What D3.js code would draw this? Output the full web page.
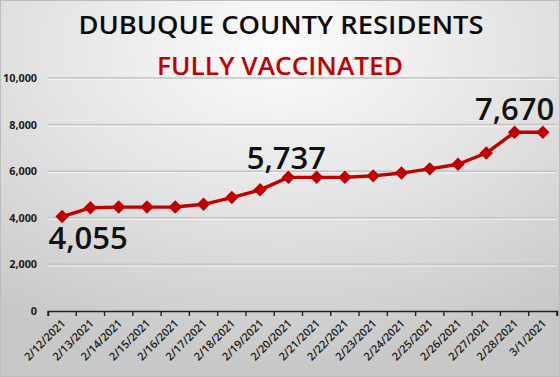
<!DOCTYPE html>
<html><head><meta charset="utf-8">
<script src="https://cdn.jsdelivr.net/npm/d3@7"></script>
<style>html,body{margin:0;padding:0;overflow:hidden;background:#ddd}</style>
</head><body>
<svg id="c" width="560" height="377"></svg>
<script>
const dates = ["2/12/2021","2/13/2021","2/14/2021","2/15/2021","2/16/2021","2/17/2021","2/18/2021","2/19/2021","2/20/2021","2/21/2021","2/22/2021","2/23/2021","2/24/2021","2/25/2021","2/26/2021","2/27/2021","2/28/2021","3/1/2021"];
const vaccinated = [4055,4430,4460,4460,4465,4580,4870,5200,5737,5737,5740,5800,5920,6100,6300,6780,7670,7670];
const yTicks = [0,2000,4000,6000,8000,10000];
const titleLines = ["DUBUQUE COUNTY RESIDENTS","FULLY VACCINATED"];
const labelled = [0,8,16];

const W=560,H=377;
const svg=d3.select("#c");
const defs=svg.append("defs");
const rg=defs.append("radialGradient").attr("id","bg").attr("cx","50%").attr("cy","12%").attr("r","85%");
rg.append("stop").attr("offset","0%").attr("stop-color","#fcfcfc");
rg.append("stop").attr("offset","50%").attr("stop-color","#e4e4e4");
rg.append("stop").attr("offset","100%").attr("stop-color","#c8c8c8");
svg.append("rect").attr("width",W).attr("height",H).attr("fill","url(#bg)");
svg.append("rect").attr("x",0.5).attr("y",0.5).attr("width",W-1).attr("height",H-1).attr("fill","none").attr("stroke","#bdbdbd");

const x=d3.scaleBand().domain(dates).range([48,557]);
const y=d3.scaleLinear().domain([0,10000]).range([311,78]);

// gridlines
svg.append("g").selectAll("line").data(yTicks.filter(d=>d>0)).join("line")
 .attr("x1",48).attr("x2",557).attr("y1",d=>y(d)).attr("y2",d=>y(d))
 .attr("stroke","#c3c3c3").attr("stroke-width",1.6);
svg.append("g").selectAll("line").data(yTicks.filter(d=>d>0)).join("line")
 .attr("x1",48).attr("x2",557).attr("y1",d=>y(d)+1.5).attr("y2",d=>y(d)+1.5)
 .attr("stroke","#f4f4f4").attr("stroke-width",1);

// y labels
const fmt=d3.format(",");
svg.append("g").selectAll("text").data(yTicks).join("text")
 .attr("x",37).attr("y",d=>y(d)+4).attr("text-anchor","end")
 .attr("font-family","'Open Sans',sans-serif").attr("font-weight",700).attr("font-size",10.8)
 .attr("fill","#1a1a1a").text(d=>fmt(d));

// x axis
const xAxis=d3.axisBottom(x).tickSize(5).tickSizeOuter(5).tickFormat("");
const gx=svg.append("g").attr("transform","translate(0,311)").call(xAxis);
gx.select(".domain").attr("stroke","#222").attr("stroke-width",1.6);
gx.selectAll(".tick line").attr("stroke","#222").attr("stroke-width",1.4)
 .attr("transform",`translate(${-x.bandwidth()/2},0)`);
gx.append("line").attr("x1",557).attr("x2",557).attr("y1",0).attr("y2",5).attr("stroke","#222").attr("stroke-width",1.4);
svg.append("g").selectAll("text").data(dates).join("text")
 .attr("transform",d=>`translate(${x(d)+x.bandwidth()/2+4},${324}) rotate(-45)`)
 .attr("text-anchor","end")
 .attr("font-family","'Open Sans',sans-serif").attr("font-weight",600).attr("font-size",11)
 .attr("fill","#1a1a1a").text(d=>d);

// line
const cx=i=>x(dates[i])+x.bandwidth()/2;
const line=d3.line().x((d,i)=>cx(i)).y(d=>y(d));
svg.append("path").datum(vaccinated).attr("d",line).attr("fill","none")
 .attr("stroke","#c00000").attr("stroke-width",3.4).attr("stroke-linejoin","round");
const sym=d3.symbol().type(d3.symbolDiamond2).size(115);
svg.append("g").selectAll("path").data(vaccinated).join("path")
 .attr("transform",(d,i)=>`translate(${cx(i)},${y(d)})`)
 .attr("d",sym).attr("fill","#c00000");

// data labels
const off={0:[26,32],8:[-2,-8],16:[0,-12]};
svg.append("g").selectAll("text").data(labelled).join("text")
 .attr("x",i=>cx(i)+off[i][0]).attr("y",i=>y(vaccinated[i])+off[i][1])
 .attr("text-anchor","middle")
 .attr("font-family","'Open Sans',sans-serif").attr("font-weight",600).attr("font-size",31)
 .attr("fill","#111").text(i=>fmt(vaccinated[i]));

// titles
svg.append("text").attr("x",281).attr("y",34).attr("text-anchor","middle")
 .attr("font-family","'Open Sans',sans-serif").attr("font-weight",600).attr("font-size",25).attr("fill","#0a0a0a")
 .attr("textLength",405).attr("lengthAdjust","spacingAndGlyphs").text(titleLines[0]);
svg.append("text").attr("x",280).attr("y",75).attr("text-anchor","middle")
 .attr("font-family","'Open Sans',sans-serif").attr("font-weight",600).attr("font-size",25).attr("fill","#c00000")
 .attr("textLength",246).attr("lengthAdjust","spacingAndGlyphs").text(titleLines[1]);
</script>
</body></html>
